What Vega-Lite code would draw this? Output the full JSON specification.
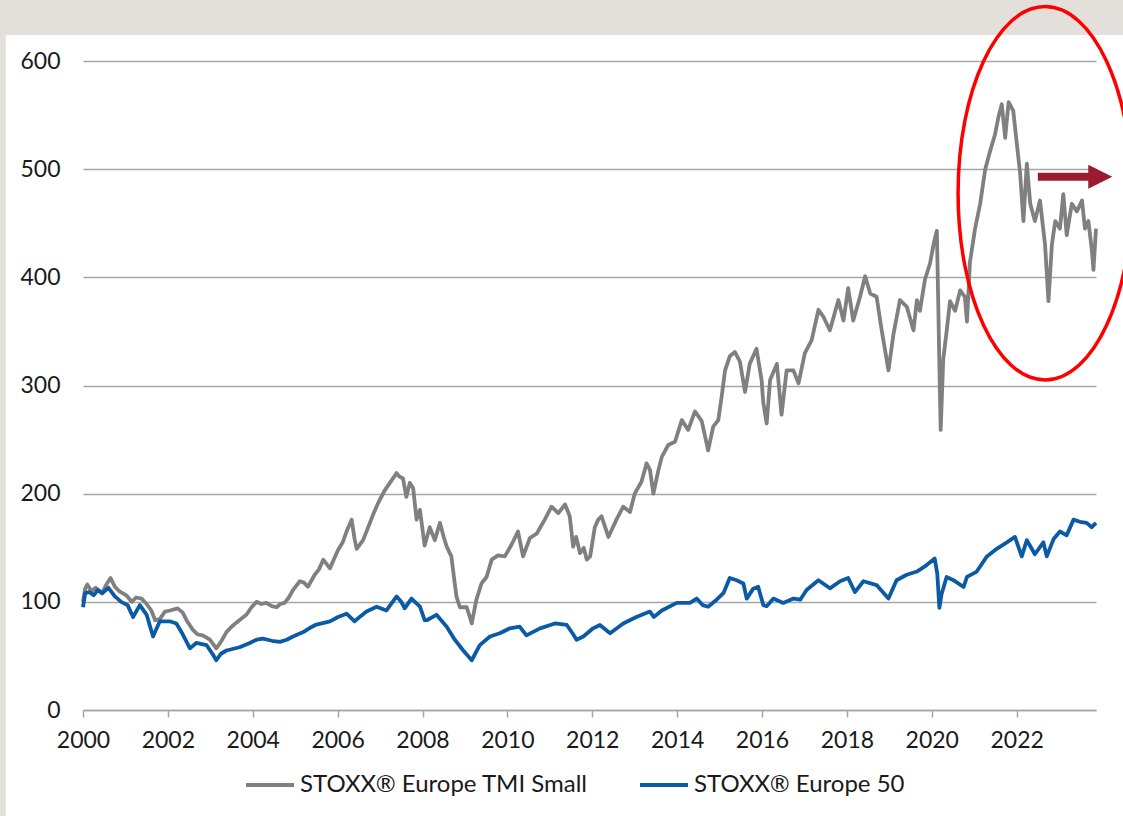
{
  "$schema": "https://vega.github.io/schema/vega-lite/v6.json",
  "width": 1013,
  "height": 649,
  "autosize": {"type": "none"},
  "padding": {"left": 83, "top": 61, "right": 27, "bottom": 106},
  "background": "white",
  "config": {
    "view": {"stroke": null},
    "font": "Lato",
    "axis": {"labelFont": "Lato", "labelFontSize": 23, "labelColor": "#1a1a1a", "title": null},
    "legend": {"labelFont": "Lato", "labelFontSize": 24, "labelColor": "#1a1a1a", "labelLimit": 0}
  },
  "datasets": {
    "frame": [
      {"x1": 1990, "x2": 2030, "y1": 624, "y2": 720},
      {"x1": 1990, "x2": 1998.18, "y1": -300, "y2": 720}
    ],
    "ellipse": [{"year": 2022.67, "value": 477.7}],
    "arrow": [{"start": 2022.50, "end": 2023.73, "tip": 2023.97, "value": 493}],
    "idx": [
      {"series": "STOXX® Europe TMI Small", "year": 2000.00, "value": 100},
      {"series": "STOXX® Europe TMI Small", "year": 2000.05, "value": 112},
      {"series": "STOXX® Europe TMI Small", "year": 2000.10, "value": 116},
      {"series": "STOXX® Europe TMI Small", "year": 2000.20, "value": 110},
      {"series": "STOXX® Europe TMI Small", "year": 2000.30, "value": 113},
      {"series": "STOXX® Europe TMI Small", "year": 2000.45, "value": 108},
      {"series": "STOXX® Europe TMI Small", "year": 2000.55, "value": 116},
      {"series": "STOXX® Europe TMI Small", "year": 2000.65, "value": 122},
      {"series": "STOXX® Europe TMI Small", "year": 2000.75, "value": 114},
      {"series": "STOXX® Europe TMI Small", "year": 2000.85, "value": 110},
      {"series": "STOXX® Europe TMI Small", "year": 2001.02, "value": 106},
      {"series": "STOXX® Europe TMI Small", "year": 2001.15, "value": 100},
      {"series": "STOXX® Europe TMI Small", "year": 2001.25, "value": 104},
      {"series": "STOXX® Europe TMI Small", "year": 2001.38, "value": 103},
      {"series": "STOXX® Europe TMI Small", "year": 2001.50, "value": 98},
      {"series": "STOXX® Europe TMI Small", "year": 2001.61, "value": 92},
      {"series": "STOXX® Europe TMI Small", "year": 2001.70, "value": 83},
      {"series": "STOXX® Europe TMI Small", "year": 2001.81, "value": 84},
      {"series": "STOXX® Europe TMI Small", "year": 2001.93, "value": 91},
      {"series": "STOXX® Europe TMI Small", "year": 2002.05, "value": 92},
      {"series": "STOXX® Europe TMI Small", "year": 2002.23, "value": 94},
      {"series": "STOXX® Europe TMI Small", "year": 2002.35, "value": 90},
      {"series": "STOXX® Europe TMI Small", "year": 2002.44, "value": 83},
      {"series": "STOXX® Europe TMI Small", "year": 2002.59, "value": 74},
      {"series": "STOXX® Europe TMI Small", "year": 2002.70, "value": 70},
      {"series": "STOXX® Europe TMI Small", "year": 2002.82, "value": 69},
      {"series": "STOXX® Europe TMI Small", "year": 2002.99, "value": 65},
      {"series": "STOXX® Europe TMI Small", "year": 2003.14, "value": 57},
      {"series": "STOXX® Europe TMI Small", "year": 2003.25, "value": 63},
      {"series": "STOXX® Europe TMI Small", "year": 2003.38, "value": 72},
      {"series": "STOXX® Europe TMI Small", "year": 2003.50, "value": 77},
      {"series": "STOXX® Europe TMI Small", "year": 2003.62, "value": 81},
      {"series": "STOXX® Europe TMI Small", "year": 2003.75, "value": 85},
      {"series": "STOXX® Europe TMI Small", "year": 2003.85, "value": 88},
      {"series": "STOXX® Europe TMI Small", "year": 2003.97, "value": 95},
      {"series": "STOXX® Europe TMI Small", "year": 2004.09, "value": 100},
      {"series": "STOXX® Europe TMI Small", "year": 2004.20, "value": 98},
      {"series": "STOXX® Europe TMI Small", "year": 2004.32, "value": 99},
      {"series": "STOXX® Europe TMI Small", "year": 2004.45, "value": 96},
      {"series": "STOXX® Europe TMI Small", "year": 2004.56, "value": 95},
      {"series": "STOXX® Europe TMI Small", "year": 2004.65, "value": 98},
      {"series": "STOXX® Europe TMI Small", "year": 2004.75, "value": 99},
      {"series": "STOXX® Europe TMI Small", "year": 2004.85, "value": 104},
      {"series": "STOXX® Europe TMI Small", "year": 2004.95, "value": 111},
      {"series": "STOXX® Europe TMI Small", "year": 2005.11, "value": 119},
      {"series": "STOXX® Europe TMI Small", "year": 2005.20, "value": 118},
      {"series": "STOXX® Europe TMI Small", "year": 2005.30, "value": 114},
      {"series": "STOXX® Europe TMI Small", "year": 2005.46, "value": 125},
      {"series": "STOXX® Europe TMI Small", "year": 2005.56, "value": 130},
      {"series": "STOXX® Europe TMI Small", "year": 2005.66, "value": 139},
      {"series": "STOXX® Europe TMI Small", "year": 2005.82, "value": 131},
      {"series": "STOXX® Europe TMI Small", "year": 2005.92, "value": 140},
      {"series": "STOXX® Europe TMI Small", "year": 2006.01, "value": 148},
      {"series": "STOXX® Europe TMI Small", "year": 2006.12, "value": 155},
      {"series": "STOXX® Europe TMI Small", "year": 2006.21, "value": 165},
      {"series": "STOXX® Europe TMI Small", "year": 2006.33, "value": 176},
      {"series": "STOXX® Europe TMI Small", "year": 2006.40, "value": 158},
      {"series": "STOXX® Europe TMI Small", "year": 2006.45, "value": 149},
      {"series": "STOXX® Europe TMI Small", "year": 2006.60, "value": 157},
      {"series": "STOXX® Europe TMI Small", "year": 2006.76, "value": 173},
      {"series": "STOXX® Europe TMI Small", "year": 2006.85, "value": 182},
      {"series": "STOXX® Europe TMI Small", "year": 2006.95, "value": 191},
      {"series": "STOXX® Europe TMI Small", "year": 2007.11, "value": 203},
      {"series": "STOXX® Europe TMI Small", "year": 2007.23, "value": 210},
      {"series": "STOXX® Europe TMI Small", "year": 2007.39, "value": 219},
      {"series": "STOXX® Europe TMI Small", "year": 2007.45, "value": 216},
      {"series": "STOXX® Europe TMI Small", "year": 2007.54, "value": 214},
      {"series": "STOXX® Europe TMI Small", "year": 2007.62, "value": 197},
      {"series": "STOXX® Europe TMI Small", "year": 2007.70, "value": 210},
      {"series": "STOXX® Europe TMI Small", "year": 2007.78, "value": 205},
      {"series": "STOXX® Europe TMI Small", "year": 2007.86, "value": 176},
      {"series": "STOXX® Europe TMI Small", "year": 2007.94, "value": 185},
      {"series": "STOXX® Europe TMI Small", "year": 2008.05, "value": 152},
      {"series": "STOXX® Europe TMI Small", "year": 2008.17, "value": 169},
      {"series": "STOXX® Europe TMI Small", "year": 2008.29, "value": 157},
      {"series": "STOXX® Europe TMI Small", "year": 2008.41, "value": 173},
      {"series": "STOXX® Europe TMI Small", "year": 2008.50, "value": 160},
      {"series": "STOXX® Europe TMI Small", "year": 2008.57, "value": 151},
      {"series": "STOXX® Europe TMI Small", "year": 2008.68, "value": 142},
      {"series": "STOXX® Europe TMI Small", "year": 2008.75, "value": 120},
      {"series": "STOXX® Europe TMI Small", "year": 2008.80, "value": 105},
      {"series": "STOXX® Europe TMI Small", "year": 2008.88, "value": 95},
      {"series": "STOXX® Europe TMI Small", "year": 2009.04, "value": 95},
      {"series": "STOXX® Europe TMI Small", "year": 2009.10, "value": 88},
      {"series": "STOXX® Europe TMI Small", "year": 2009.16, "value": 80},
      {"series": "STOXX® Europe TMI Small", "year": 2009.27, "value": 102},
      {"series": "STOXX® Europe TMI Small", "year": 2009.39, "value": 117},
      {"series": "STOXX® Europe TMI Small", "year": 2009.51, "value": 123},
      {"series": "STOXX® Europe TMI Small", "year": 2009.63, "value": 139},
      {"series": "STOXX® Europe TMI Small", "year": 2009.78, "value": 143},
      {"series": "STOXX® Europe TMI Small", "year": 2009.94, "value": 142},
      {"series": "STOXX® Europe TMI Small", "year": 2010.10, "value": 153},
      {"series": "STOXX® Europe TMI Small", "year": 2010.25, "value": 165},
      {"series": "STOXX® Europe TMI Small", "year": 2010.37, "value": 142},
      {"series": "STOXX® Europe TMI Small", "year": 2010.53, "value": 159},
      {"series": "STOXX® Europe TMI Small", "year": 2010.69, "value": 163},
      {"series": "STOXX® Europe TMI Small", "year": 2010.88, "value": 176},
      {"series": "STOXX® Europe TMI Small", "year": 2011.04, "value": 188},
      {"series": "STOXX® Europe TMI Small", "year": 2011.20, "value": 182},
      {"series": "STOXX® Europe TMI Small", "year": 2011.36, "value": 190},
      {"series": "STOXX® Europe TMI Small", "year": 2011.47, "value": 179},
      {"series": "STOXX® Europe TMI Small", "year": 2011.55, "value": 151},
      {"series": "STOXX® Europe TMI Small", "year": 2011.62, "value": 160},
      {"series": "STOXX® Europe TMI Small", "year": 2011.71, "value": 145},
      {"series": "STOXX® Europe TMI Small", "year": 2011.80, "value": 150},
      {"series": "STOXX® Europe TMI Small", "year": 2011.87, "value": 139},
      {"series": "STOXX® Europe TMI Small", "year": 2011.95, "value": 142},
      {"series": "STOXX® Europe TMI Small", "year": 2012.06, "value": 169},
      {"series": "STOXX® Europe TMI Small", "year": 2012.14, "value": 176},
      {"series": "STOXX® Europe TMI Small", "year": 2012.22, "value": 179},
      {"series": "STOXX® Europe TMI Small", "year": 2012.38, "value": 160},
      {"series": "STOXX® Europe TMI Small", "year": 2012.57, "value": 176},
      {"series": "STOXX® Europe TMI Small", "year": 2012.73, "value": 188},
      {"series": "STOXX® Europe TMI Small", "year": 2012.89, "value": 183},
      {"series": "STOXX® Europe TMI Small", "year": 2013.00, "value": 200},
      {"series": "STOXX® Europe TMI Small", "year": 2013.16, "value": 211},
      {"series": "STOXX® Europe TMI Small", "year": 2013.28, "value": 228},
      {"series": "STOXX® Europe TMI Small", "year": 2013.36, "value": 222},
      {"series": "STOXX® Europe TMI Small", "year": 2013.44, "value": 200},
      {"series": "STOXX® Europe TMI Small", "year": 2013.56, "value": 222},
      {"series": "STOXX® Europe TMI Small", "year": 2013.64, "value": 234},
      {"series": "STOXX® Europe TMI Small", "year": 2013.79, "value": 245},
      {"series": "STOXX® Europe TMI Small", "year": 2013.95, "value": 248},
      {"series": "STOXX® Europe TMI Small", "year": 2014.11, "value": 268},
      {"series": "STOXX® Europe TMI Small", "year": 2014.26, "value": 259},
      {"series": "STOXX® Europe TMI Small", "year": 2014.42, "value": 276},
      {"series": "STOXX® Europe TMI Small", "year": 2014.58, "value": 267},
      {"series": "STOXX® Europe TMI Small", "year": 2014.73, "value": 240},
      {"series": "STOXX® Europe TMI Small", "year": 2014.85, "value": 262},
      {"series": "STOXX® Europe TMI Small", "year": 2014.97, "value": 268},
      {"series": "STOXX® Europe TMI Small", "year": 2015.05, "value": 290},
      {"series": "STOXX® Europe TMI Small", "year": 2015.13, "value": 314},
      {"series": "STOXX® Europe TMI Small", "year": 2015.24, "value": 327},
      {"series": "STOXX® Europe TMI Small", "year": 2015.36, "value": 331},
      {"series": "STOXX® Europe TMI Small", "year": 2015.48, "value": 322},
      {"series": "STOXX® Europe TMI Small", "year": 2015.60, "value": 294},
      {"series": "STOXX® Europe TMI Small", "year": 2015.71, "value": 320},
      {"series": "STOXX® Europe TMI Small", "year": 2015.87, "value": 334},
      {"series": "STOXX® Europe TMI Small", "year": 2015.99, "value": 305},
      {"series": "STOXX® Europe TMI Small", "year": 2016.03, "value": 284},
      {"series": "STOXX® Europe TMI Small", "year": 2016.11, "value": 265},
      {"series": "STOXX® Europe TMI Small", "year": 2016.19, "value": 305},
      {"series": "STOXX® Europe TMI Small", "year": 2016.35, "value": 320},
      {"series": "STOXX® Europe TMI Small", "year": 2016.46, "value": 273},
      {"series": "STOXX® Europe TMI Small", "year": 2016.58, "value": 314},
      {"series": "STOXX® Europe TMI Small", "year": 2016.74, "value": 314},
      {"series": "STOXX® Europe TMI Small", "year": 2016.86, "value": 302},
      {"series": "STOXX® Europe TMI Small", "year": 2017.01, "value": 330},
      {"series": "STOXX® Europe TMI Small", "year": 2017.17, "value": 342},
      {"series": "STOXX® Europe TMI Small", "year": 2017.33, "value": 370},
      {"series": "STOXX® Europe TMI Small", "year": 2017.44, "value": 364},
      {"series": "STOXX® Europe TMI Small", "year": 2017.60, "value": 351},
      {"series": "STOXX® Europe TMI Small", "year": 2017.80, "value": 379},
      {"series": "STOXX® Europe TMI Small", "year": 2017.92, "value": 360},
      {"series": "STOXX® Europe TMI Small", "year": 2018.03, "value": 390},
      {"series": "STOXX® Europe TMI Small", "year": 2018.15, "value": 360},
      {"series": "STOXX® Europe TMI Small", "year": 2018.31, "value": 382},
      {"series": "STOXX® Europe TMI Small", "year": 2018.43, "value": 401},
      {"series": "STOXX® Europe TMI Small", "year": 2018.55, "value": 385},
      {"series": "STOXX® Europe TMI Small", "year": 2018.70, "value": 382},
      {"series": "STOXX® Europe TMI Small", "year": 2018.82, "value": 351},
      {"series": "STOXX® Europe TMI Small", "year": 2018.98, "value": 314},
      {"series": "STOXX® Europe TMI Small", "year": 2019.10, "value": 348},
      {"series": "STOXX® Europe TMI Small", "year": 2019.25, "value": 379},
      {"series": "STOXX® Europe TMI Small", "year": 2019.41, "value": 373},
      {"series": "STOXX® Europe TMI Small", "year": 2019.57, "value": 351},
      {"series": "STOXX® Europe TMI Small", "year": 2019.65, "value": 379},
      {"series": "STOXX® Europe TMI Small", "year": 2019.72, "value": 369},
      {"series": "STOXX® Europe TMI Small", "year": 2019.84, "value": 398},
      {"series": "STOXX® Europe TMI Small", "year": 2019.96, "value": 413},
      {"series": "STOXX® Europe TMI Small", "year": 2020.05, "value": 432},
      {"series": "STOXX® Europe TMI Small", "year": 2020.12, "value": 443},
      {"series": "STOXX® Europe TMI Small", "year": 2020.15, "value": 382},
      {"series": "STOXX® Europe TMI Small", "year": 2020.18, "value": 318},
      {"series": "STOXX® Europe TMI Small", "year": 2020.21, "value": 259},
      {"series": "STOXX® Europe TMI Small", "year": 2020.27, "value": 324},
      {"series": "STOXX® Europe TMI Small", "year": 2020.35, "value": 350},
      {"series": "STOXX® Europe TMI Small", "year": 2020.43, "value": 378},
      {"series": "STOXX® Europe TMI Small", "year": 2020.55, "value": 369},
      {"series": "STOXX® Europe TMI Small", "year": 2020.67, "value": 388},
      {"series": "STOXX® Europe TMI Small", "year": 2020.78, "value": 382},
      {"series": "STOXX® Europe TMI Small", "year": 2020.83, "value": 359},
      {"series": "STOXX® Europe TMI Small", "year": 2020.90, "value": 414},
      {"series": "STOXX® Europe TMI Small", "year": 2021.02, "value": 445},
      {"series": "STOXX® Europe TMI Small", "year": 2021.14, "value": 468},
      {"series": "STOXX® Europe TMI Small", "year": 2021.26, "value": 500},
      {"series": "STOXX® Europe TMI Small", "year": 2021.37, "value": 516},
      {"series": "STOXX® Europe TMI Small", "year": 2021.49, "value": 532},
      {"series": "STOXX® Europe TMI Small", "year": 2021.57, "value": 548},
      {"series": "STOXX® Europe TMI Small", "year": 2021.65, "value": 560},
      {"series": "STOXX® Europe TMI Small", "year": 2021.73, "value": 529},
      {"series": "STOXX® Europe TMI Small", "year": 2021.81, "value": 562},
      {"series": "STOXX® Europe TMI Small", "year": 2021.92, "value": 554},
      {"series": "STOXX® Europe TMI Small", "year": 2022.00, "value": 525},
      {"series": "STOXX® Europe TMI Small", "year": 2022.08, "value": 497},
      {"series": "STOXX® Europe TMI Small", "year": 2022.16, "value": 452},
      {"series": "STOXX® Europe TMI Small", "year": 2022.24, "value": 505},
      {"series": "STOXX® Europe TMI Small", "year": 2022.32, "value": 468},
      {"series": "STOXX® Europe TMI Small", "year": 2022.43, "value": 452},
      {"series": "STOXX® Europe TMI Small", "year": 2022.55, "value": 471},
      {"series": "STOXX® Europe TMI Small", "year": 2022.67, "value": 430},
      {"series": "STOXX® Europe TMI Small", "year": 2022.75, "value": 378},
      {"series": "STOXX® Europe TMI Small", "year": 2022.83, "value": 430},
      {"series": "STOXX® Europe TMI Small", "year": 2022.91, "value": 452},
      {"series": "STOXX® Europe TMI Small", "year": 2023.02, "value": 445},
      {"series": "STOXX® Europe TMI Small", "year": 2023.10, "value": 477},
      {"series": "STOXX® Europe TMI Small", "year": 2023.18, "value": 439},
      {"series": "STOXX® Europe TMI Small", "year": 2023.30, "value": 468},
      {"series": "STOXX® Europe TMI Small", "year": 2023.42, "value": 461},
      {"series": "STOXX® Europe TMI Small", "year": 2023.54, "value": 471},
      {"series": "STOXX® Europe TMI Small", "year": 2023.61, "value": 445},
      {"series": "STOXX® Europe TMI Small", "year": 2023.69, "value": 452},
      {"series": "STOXX® Europe TMI Small", "year": 2023.77, "value": 426},
      {"series": "STOXX® Europe TMI Small", "year": 2023.81, "value": 407},
      {"series": "STOXX® Europe TMI Small", "year": 2023.87, "value": 445},
      {"series": "STOXX® Europe 50", "year": 2000.00, "value": 95},
      {"series": "STOXX® Europe 50", "year": 2000.05, "value": 108},
      {"series": "STOXX® Europe 50", "year": 2000.15, "value": 109},
      {"series": "STOXX® Europe 50", "year": 2000.25, "value": 106},
      {"series": "STOXX® Europe 50", "year": 2000.35, "value": 111},
      {"series": "STOXX® Europe 50", "year": 2000.45, "value": 108},
      {"series": "STOXX® Europe 50", "year": 2000.60, "value": 113},
      {"series": "STOXX® Europe 50", "year": 2000.75, "value": 105},
      {"series": "STOXX® Europe 50", "year": 2000.90, "value": 100},
      {"series": "STOXX® Europe 50", "year": 2001.05, "value": 97},
      {"series": "STOXX® Europe 50", "year": 2001.18, "value": 86},
      {"series": "STOXX® Europe 50", "year": 2001.34, "value": 97},
      {"series": "STOXX® Europe 50", "year": 2001.50, "value": 88},
      {"series": "STOXX® Europe 50", "year": 2001.65, "value": 68},
      {"series": "STOXX® Europe 50", "year": 2001.81, "value": 82},
      {"series": "STOXX® Europe 50", "year": 2002.04, "value": 82},
      {"series": "STOXX® Europe 50", "year": 2002.20, "value": 80},
      {"series": "STOXX® Europe 50", "year": 2002.35, "value": 70},
      {"series": "STOXX® Europe 50", "year": 2002.52, "value": 57},
      {"series": "STOXX® Europe 50", "year": 2002.67, "value": 62},
      {"series": "STOXX® Europe 50", "year": 2002.91, "value": 60},
      {"series": "STOXX® Europe 50", "year": 2003.05, "value": 52},
      {"series": "STOXX® Europe 50", "year": 2003.14, "value": 46},
      {"series": "STOXX® Europe 50", "year": 2003.25, "value": 52},
      {"series": "STOXX® Europe 50", "year": 2003.38, "value": 55},
      {"series": "STOXX® Europe 50", "year": 2003.69, "value": 58},
      {"series": "STOXX® Europe 50", "year": 2003.93, "value": 62},
      {"series": "STOXX® Europe 50", "year": 2004.09, "value": 65},
      {"series": "STOXX® Europe 50", "year": 2004.24, "value": 66},
      {"series": "STOXX® Europe 50", "year": 2004.45, "value": 64},
      {"series": "STOXX® Europe 50", "year": 2004.64, "value": 63},
      {"series": "STOXX® Europe 50", "year": 2004.80, "value": 65},
      {"series": "STOXX® Europe 50", "year": 2004.95, "value": 68},
      {"series": "STOXX® Europe 50", "year": 2005.19, "value": 72},
      {"series": "STOXX® Europe 50", "year": 2005.35, "value": 76},
      {"series": "STOXX® Europe 50", "year": 2005.50, "value": 79},
      {"series": "STOXX® Europe 50", "year": 2005.82, "value": 82},
      {"series": "STOXX® Europe 50", "year": 2006.01, "value": 86},
      {"series": "STOXX® Europe 50", "year": 2006.21, "value": 89},
      {"series": "STOXX® Europe 50", "year": 2006.40, "value": 82},
      {"series": "STOXX® Europe 50", "year": 2006.55, "value": 87},
      {"series": "STOXX® Europe 50", "year": 2006.68, "value": 91},
      {"series": "STOXX® Europe 50", "year": 2006.92, "value": 95.5},
      {"series": "STOXX® Europe 50", "year": 2007.15, "value": 92},
      {"series": "STOXX® Europe 50", "year": 2007.39, "value": 105},
      {"series": "STOXX® Europe 50", "year": 2007.50, "value": 100},
      {"series": "STOXX® Europe 50", "year": 2007.58, "value": 94},
      {"series": "STOXX® Europe 50", "year": 2007.74, "value": 103},
      {"series": "STOXX® Europe 50", "year": 2007.94, "value": 95.5},
      {"series": "STOXX® Europe 50", "year": 2008.05, "value": 83},
      {"series": "STOXX® Europe 50", "year": 2008.10, "value": 83},
      {"series": "STOXX® Europe 50", "year": 2008.33, "value": 88},
      {"series": "STOXX® Europe 50", "year": 2008.57, "value": 77},
      {"series": "STOXX® Europe 50", "year": 2008.76, "value": 65},
      {"series": "STOXX® Europe 50", "year": 2008.96, "value": 55},
      {"series": "STOXX® Europe 50", "year": 2009.16, "value": 46},
      {"series": "STOXX® Europe 50", "year": 2009.35, "value": 60},
      {"series": "STOXX® Europe 50", "year": 2009.59, "value": 68},
      {"series": "STOXX® Europe 50", "year": 2009.82, "value": 71},
      {"series": "STOXX® Europe 50", "year": 2010.06, "value": 75.5},
      {"series": "STOXX® Europe 50", "year": 2010.29, "value": 77},
      {"series": "STOXX® Europe 50", "year": 2010.45, "value": 69},
      {"series": "STOXX® Europe 50", "year": 2010.77, "value": 75.5},
      {"series": "STOXX® Europe 50", "year": 2011.12, "value": 80},
      {"series": "STOXX® Europe 50", "year": 2011.40, "value": 78.6},
      {"series": "STOXX® Europe 50", "year": 2011.55, "value": 70},
      {"series": "STOXX® Europe 50", "year": 2011.63, "value": 65},
      {"series": "STOXX® Europe 50", "year": 2011.79, "value": 68},
      {"series": "STOXX® Europe 50", "year": 2012.02, "value": 75.5},
      {"series": "STOXX® Europe 50", "year": 2012.18, "value": 78.6},
      {"series": "STOXX® Europe 50", "year": 2012.42, "value": 71},
      {"series": "STOXX® Europe 50", "year": 2012.73, "value": 80},
      {"series": "STOXX® Europe 50", "year": 2013.04, "value": 86},
      {"series": "STOXX® Europe 50", "year": 2013.36, "value": 91},
      {"series": "STOXX® Europe 50", "year": 2013.45, "value": 86},
      {"series": "STOXX® Europe 50", "year": 2013.64, "value": 92},
      {"series": "STOXX® Europe 50", "year": 2013.99, "value": 99},
      {"series": "STOXX® Europe 50", "year": 2014.30, "value": 99},
      {"series": "STOXX® Europe 50", "year": 2014.46, "value": 103},
      {"series": "STOXX® Europe 50", "year": 2014.60, "value": 97},
      {"series": "STOXX® Europe 50", "year": 2014.73, "value": 95.5},
      {"series": "STOXX® Europe 50", "year": 2014.93, "value": 102},
      {"series": "STOXX® Europe 50", "year": 2015.09, "value": 108},
      {"series": "STOXX® Europe 50", "year": 2015.24, "value": 122},
      {"series": "STOXX® Europe 50", "year": 2015.40, "value": 120},
      {"series": "STOXX® Europe 50", "year": 2015.56, "value": 117},
      {"series": "STOXX® Europe 50", "year": 2015.64, "value": 103},
      {"series": "STOXX® Europe 50", "year": 2015.79, "value": 112},
      {"series": "STOXX® Europe 50", "year": 2015.91, "value": 114},
      {"series": "STOXX® Europe 50", "year": 2016.03, "value": 97},
      {"series": "STOXX® Europe 50", "year": 2016.11, "value": 96},
      {"series": "STOXX® Europe 50", "year": 2016.27, "value": 103},
      {"series": "STOXX® Europe 50", "year": 2016.50, "value": 99},
      {"series": "STOXX® Europe 50", "year": 2016.74, "value": 103},
      {"series": "STOXX® Europe 50", "year": 2016.90, "value": 102},
      {"series": "STOXX® Europe 50", "year": 2017.05, "value": 111},
      {"series": "STOXX® Europe 50", "year": 2017.33, "value": 120},
      {"series": "STOXX® Europe 50", "year": 2017.60, "value": 112.5},
      {"series": "STOXX® Europe 50", "year": 2017.84, "value": 119},
      {"series": "STOXX® Europe 50", "year": 2018.03, "value": 122},
      {"series": "STOXX® Europe 50", "year": 2018.19, "value": 109},
      {"series": "STOXX® Europe 50", "year": 2018.39, "value": 119},
      {"series": "STOXX® Europe 50", "year": 2018.70, "value": 115.5},
      {"series": "STOXX® Europe 50", "year": 2018.98, "value": 103},
      {"series": "STOXX® Europe 50", "year": 2019.17, "value": 120},
      {"series": "STOXX® Europe 50", "year": 2019.41, "value": 125},
      {"series": "STOXX® Europe 50", "year": 2019.65, "value": 128},
      {"series": "STOXX® Europe 50", "year": 2019.88, "value": 134},
      {"series": "STOXX® Europe 50", "year": 2020.07, "value": 140},
      {"series": "STOXX® Europe 50", "year": 2020.13, "value": 126},
      {"series": "STOXX® Europe 50", "year": 2020.18, "value": 94.5},
      {"series": "STOXX® Europe 50", "year": 2020.23, "value": 107},
      {"series": "STOXX® Europe 50", "year": 2020.35, "value": 123},
      {"series": "STOXX® Europe 50", "year": 2020.51, "value": 120},
      {"series": "STOXX® Europe 50", "year": 2020.75, "value": 113.7},
      {"series": "STOXX® Europe 50", "year": 2020.83, "value": 123},
      {"series": "STOXX® Europe 50", "year": 2021.06, "value": 128},
      {"series": "STOXX® Europe 50", "year": 2021.30, "value": 142},
      {"series": "STOXX® Europe 50", "year": 2021.53, "value": 149},
      {"series": "STOXX® Europe 50", "year": 2021.77, "value": 155},
      {"series": "STOXX® Europe 50", "year": 2021.96, "value": 160},
      {"series": "STOXX® Europe 50", "year": 2022.12, "value": 142},
      {"series": "STOXX® Europe 50", "year": 2022.24, "value": 157},
      {"series": "STOXX® Europe 50", "year": 2022.43, "value": 144},
      {"series": "STOXX® Europe 50", "year": 2022.63, "value": 155},
      {"series": "STOXX® Europe 50", "year": 2022.71, "value": 142},
      {"series": "STOXX® Europe 50", "year": 2022.87, "value": 158},
      {"series": "STOXX® Europe 50", "year": 2023.02, "value": 165},
      {"series": "STOXX® Europe 50", "year": 2023.18, "value": 161.5},
      {"series": "STOXX® Europe 50", "year": 2023.34, "value": 176},
      {"series": "STOXX® Europe 50", "year": 2023.49, "value": 174},
      {"series": "STOXX® Europe 50", "year": 2023.65, "value": 173},
      {"series": "STOXX® Europe 50", "year": 2023.77, "value": 169},
      {"series": "STOXX® Europe 50", "year": 2023.87, "value": 173}
    ]
  },
  "layer": [
    {
      "data": {"name": "frame"},
      "mark": {"type": "rect", "color": "#e3dfdb", "clip": false},
      "encoding": {
        "x": {"field": "x1", "type": "quantitative", "scale": {"domain": [2000, 2023.87], "nice": false, "zero": false},
          "axis": {"values": [2000, 2002, 2004, 2006, 2008, 2010, 2012, 2014, 2016, 2018, 2020, 2022], "format": "d", "grid": false,
            "domainColor": "#a6a6a6", "domainWidth": 1.5, "tickColor": "#a6a6a6", "tickWidth": 1.5, "tickSize": 7, "labelPadding": 12, "labelFlush": false, "labelOverlap": false}},
        "x2": {"field": "x2"},
        "y": {"field": "y1", "type": "quantitative", "scale": {"domain": [0, 600], "nice": false},
          "axis": {"values": [0, 100, 200, 300, 400, 500, 600], "grid": true, "gridColor": "#a6a6a6", "gridWidth": 1.5, "ticks": false, "domain": false, "labelPadding": 23}},
        "y2": {"field": "y2"}
      }
    },
    {
      "data": {"name": "idx"},
      "transform": [{"filter": "datum.series === 'STOXX® Europe TMI Small'"}],
      "mark": {"type": "line", "strokeWidth": 3.8, "strokeJoin": "round"},
      "encoding": {
        "x": {"field": "year", "type": "quantitative", "scale": {"domain": [2000, 2023.87], "nice": false, "zero": false}},
        "y": {"field": "value", "type": "quantitative", "scale": {"domain": [0, 600], "nice": false}},
        "color": {"field": "series", "type": "nominal",
          "scale": {"domain": ["STOXX® Europe TMI Small", "STOXX® Europe 50"], "range": ["#808080", "#0a5aa5"]},
          "legend": {"title": null, "orient": "none", "legendX": 161, "legendY": 698, "direction": "horizontal",
            "symbolType": "stroke", "symbolSize": 2304, "symbolStrokeWidth": 4, "labelOffset": 4, "columnPadding": 44, "padding": 0}}
      }
    },
    {
      "data": {"name": "idx"},
      "transform": [{"filter": "datum.series === 'STOXX® Europe 50'"}],
      "mark": {"type": "line", "strokeWidth": 3.8, "strokeJoin": "round"},
      "encoding": {
        "x": {"field": "year", "type": "quantitative", "scale": {"domain": [2000, 2023.87], "nice": false, "zero": false}},
        "y": {"field": "value", "type": "quantitative", "scale": {"domain": [0, 600], "nice": false}},
        "color": {"field": "series", "type": "nominal",
          "scale": {"domain": ["STOXX® Europe TMI Small", "STOXX® Europe 50"], "range": ["#808080", "#0a5aa5"]}}
      }
    },
    {
      "data": {"name": "ellipse"},
      "mark": {"type": "point", "shape": "M0,-1A0.466,1 0 1,1 0,1A0.466,1 0 1,1 0,-1Z", "size": 139428, "filled": false, "stroke": "#ff0000", "strokeWidth": 3.5, "opacity": 1, "clip": false},
      "encoding": {
        "x": {"field": "year", "type": "quantitative"},
        "y": {"field": "value", "type": "quantitative"}
      }
    },
    {
      "data": {"name": "arrow"},
      "mark": {"type": "rule", "color": "#9a1b2f", "strokeWidth": 8, "clip": false},
      "encoding": {
        "x": {"field": "start", "type": "quantitative"},
        "x2": {"field": "end"},
        "y": {"field": "value", "type": "quantitative"}
      }
    },
    {
      "data": {"name": "arrow"},
      "mark": {"type": "point", "shape": "M-1,-1L1,0L-1,1Z", "size": 576, "filled": true, "color": "#9a1b2f", "opacity": 1, "clip": false},
      "encoding": {
        "x": {"field": "tip", "type": "quantitative"},
        "y": {"field": "value", "type": "quantitative"}
      }
    }
  ]
}
